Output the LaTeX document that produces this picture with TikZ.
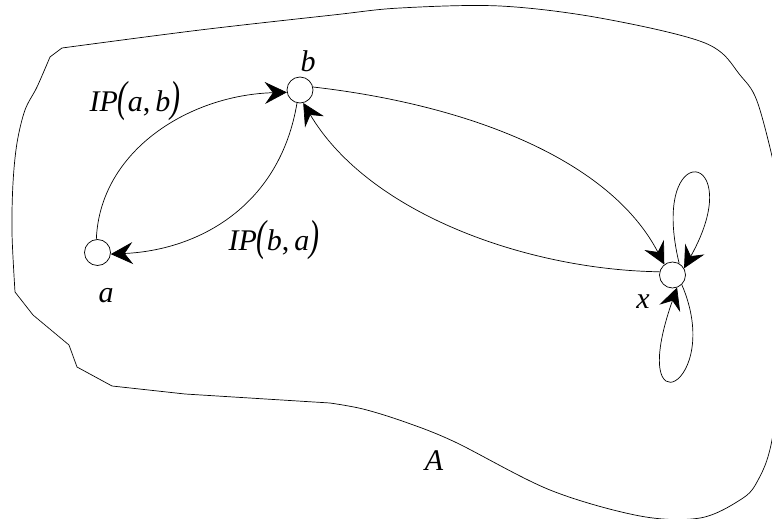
\documentclass[tikz,border=0pt]{standalone}
\usepackage{fontspec}
\setmainfont{Liberation Serif}
\usepackage{graphicx}
\usetikzlibrary{arrows.meta}
\newcommand{\mylp}{\scalebox{1}[1.45]{(}}
\newcommand{\myrp}{\scalebox{1}[1.45]{)}}
\begin{document}
\begin{tikzpicture}[x=1pt,y=-1pt,
  vert/.style={circle,draw,line width=0.7pt,minimum size=26pt,inner sep=0pt},
  lbl/.style={anchor=base,inner sep=0pt,font=\fontsize{30}{30}\selectfont\itshape},
  conn/.style={line width=0.7pt,arrows={-Stealth[length=22pt,width=22pt,inset=8pt]}},
  outline/.style={line width=0.7pt}]
\useasboundingbox (0,0) rectangle (772,519);
\clip (0,0) rectangle (772,519);
% region outline
\draw[outline] plot[smooth,tension=0.55] coordinates {(62,48) (200,30) (333,15) (400,8) (500,6) (600,18) (705,43) (740,75) (760,110) (784,220) (786,330) (772,440) (757,482) (740,500) (700,518) (640,516) (550,490) (455,442) (405,422) (363,409) (330,403)}
  -- (185,394) -- (112,386) -- (77,367) -- (69,345) -- (33,315) -- (15,292)
  plot[smooth,tension=0.55] coordinates {(15,292) (12,233) (13,183) (17,143) (25,110) (37,87) (50,57)} -- (62,48);
% vertices
\node[vert] (a) at (97.5,252.5) {};
\node[vert] (b) at (300,90) {};
\node[vert] (x) at (672.5,275) {};
% labels
\node[lbl] (la) at (106,302) {a};
\node[lbl] (lb) at (308,72) {b};
\node[lbl] (lx) at (643,308) {x};
\node[lbl] (lA) at (434,470) {A};
\node[lbl] (lab) at (135,112) {IP\mylp a{\upshape,}\,b\myrp};
\node[lbl] (lba) at (274,250) {IP\mylp b{\upshape,}\,a\myrp};
% edges
\draw[conn] (a.95) .. controls (100,150) and (190,95) .. (b.190);
\draw[conn] (b.257) .. controls (280,205) and (200,250) .. (a.353);
\draw[conn] (b.13) .. controls (470,105) and (610,160) .. (x.128);
\draw[conn] (x.166) .. controls (530,270) and (370,215) .. (b.284);
\draw[conn] (x.60) .. controls (648,135) and (750,150) .. (x.30);
\draw[conn] (x.314) .. controls (725,385) and (625,435) .. (x.290);
\end{tikzpicture}
\end{document}
